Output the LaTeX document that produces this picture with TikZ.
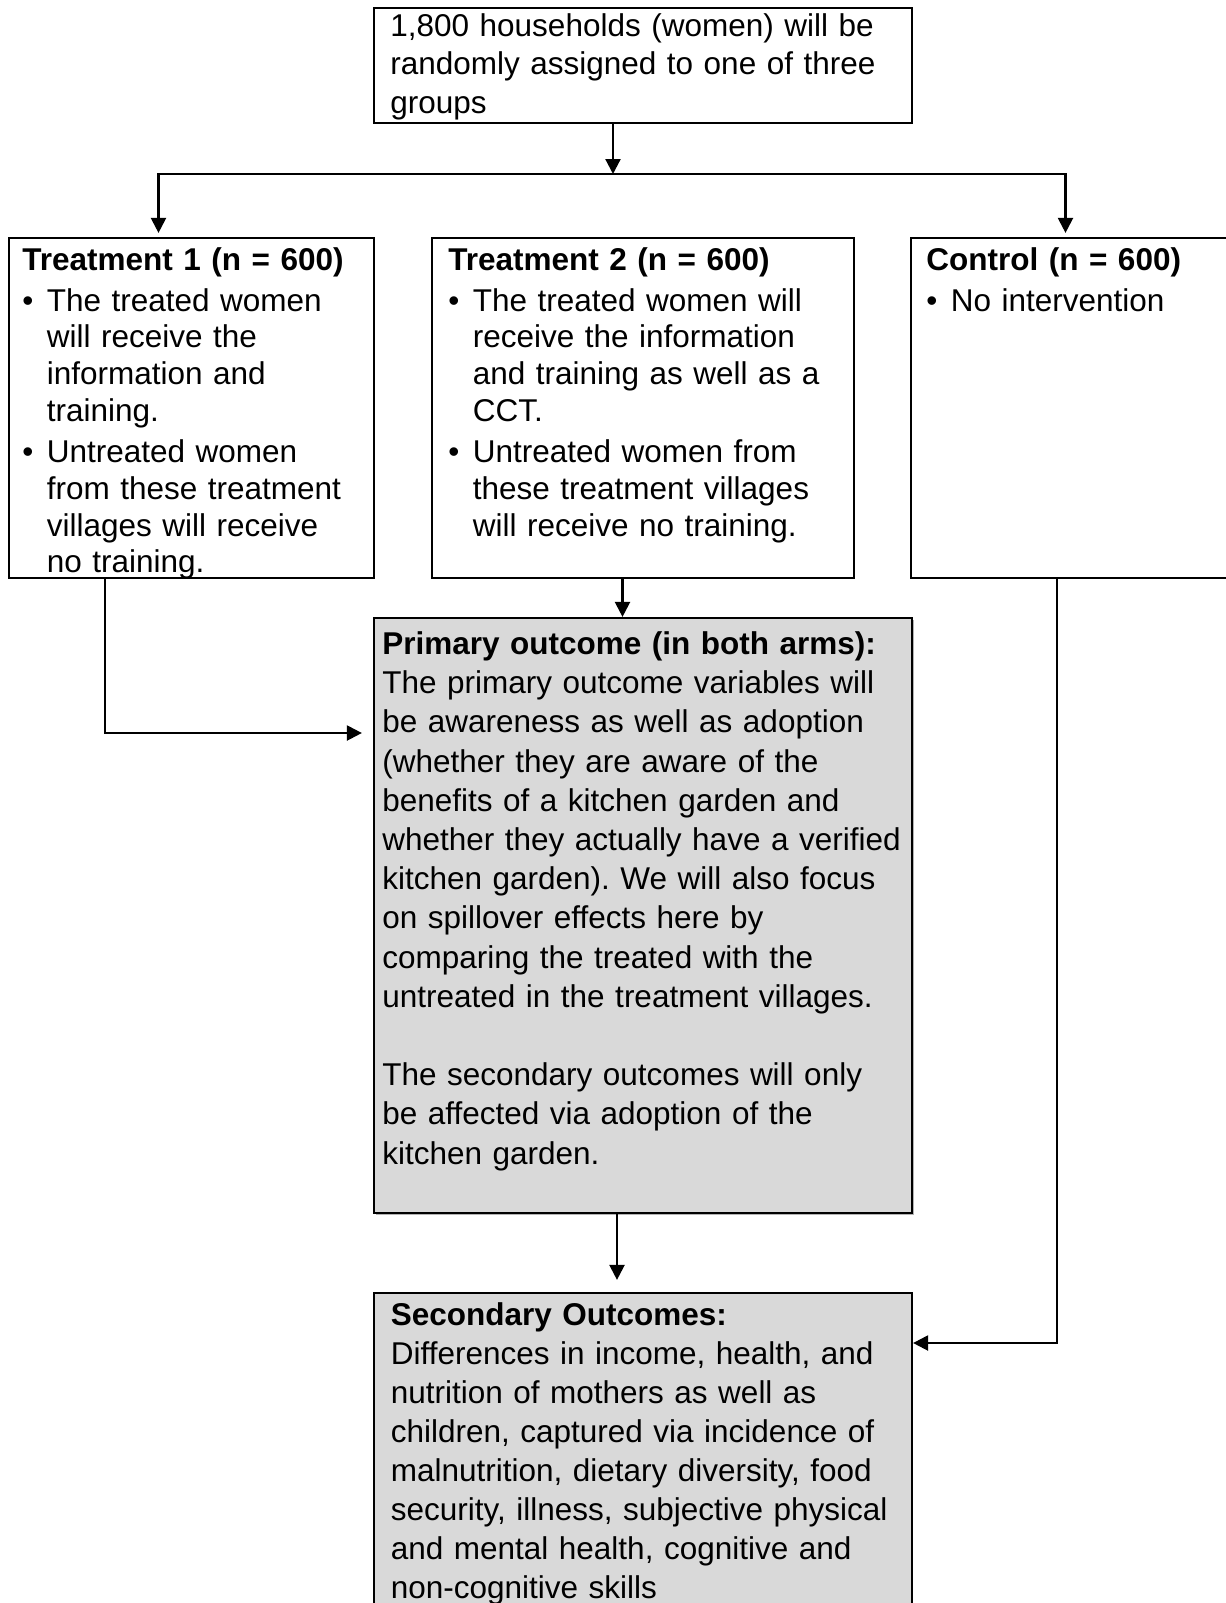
\documentclass[tikz,border=0pt]{standalone}
\usepackage{fontspec}
\setmainfont{Liberation Sans}
\usetikzlibrary{arrows.meta,shadows}
\definecolor{boxgray}{RGB}{217,217,217}
\newcommand{\bul}[1]{\par\vspace{2.1pt}\hangindent=12.25pt\hangafter=1\noindent\makebox[12.25pt][l]{\textbullet}#1\par}

\begin{document}
\frenchspacing
\begin{tikzpicture}[x=0.5pt,y=-0.5pt,
		>={Triangle[length=7.5pt,width=7.5pt]},
		box/.style={draw,line width=1.1pt,inner sep=0pt},
		outbox/.style={box,fill=boxgray},
		txt/.style={anchor=base west,inner sep=0pt,align=left,font=\fontsize{15.75pt}{18.4pt}\selectfont},
		link/.style={line width=1.1pt}]
		\useasboundingbox (0,0) rectangle (1226,1603);
		\clip (0,0) rectangle (1226,1603);
		\node[box,minimum width=269pt,minimum height=57.5pt] (groups) at (643,65.5) {};
		\node[txt,text width=270pt,font=\fontsize{15.75pt}{19.4pt}\selectfont] (groupstext) at (390,36) {1,800 households (women) will be\\randomly assigned to one of three\\groups};
		\node[box,minimum width=182.5pt,minimum height=170pt] (treat1) at (191.5,408) {};
		\node[txt,text width=175pt] (treat1text) at (22,270) {\textbf{Treatment 1 (n = 600)}
			\bul{The treated women\newline will receive the\newline information and\newline training.}
			\bul{Untreated women\newline from these treatment\newline villages will receive\newline no training.}};
		\node[box,minimum width=211pt,minimum height=170pt] (treat2) at (643,408) {};
		\node[txt,text width=205pt] (treat2text) at (448,270) {\textbf{Treatment 2 (n = 600)}
			\bul{The treated women will\newline receive the information\newline and training as well as a\newline CCT.}
			\bul{Untreated women from\newline these treatment villages\newline will receive no training.}};
		\node[box,minimum width=174.5pt,minimum height=170pt] (ctrl) at (1085.5,408) {};
		\node[txt,text width=150pt] (ctrltext) at (926,270) {\textbf{Control (n = 600)}
			\bul{No intervention}};
		\node[outbox,minimum width=269pt,minimum height=297.5pt,drop shadow={shadow xshift=0.8pt,shadow yshift=-1.2pt,fill=black!30,opacity=1}] (primary) at (643,915.5) {};
		\node[txt,text width=270pt,font=\fontsize{15.75pt}{19.6pt}\selectfont] (primarytext) at (382,654.5) {\textbf{Primary outcome (in both arms):}\\The primary outcome variables will\\be awareness as well as adoption\\(whether they are aware of the\\benefits of a kitchen garden and\\whether they actually have a verified\\kitchen garden). We will also focus\\on spillover effects here by\\comparing the treated with the\\untreated in the treatment villages.\\[19.6pt]The secondary outcomes will only\\be affected via adoption of the\\kitchen garden.};
		\node[outbox,minimum width=269pt,minimum height=178.5pt] (secondary) at (643,1471.5) {};
		\node[txt,text width=265pt,font=\fontsize{15.75pt}{19.5pt}\selectfont] (secondarytext) at (390.5,1325.5) {\textbf{Secondary Outcomes:}\\Differences in income, health, and\\nutrition of mothers as well as\\children, captured via incidence of\\malnutrition, dietary diversity, food\\security, illness, subjective physical\\and mental health, cognitive and\\non-cognitive skills};
		\coordinate (split) at (613,174);
		\coordinate (busL) at (158.5,174);
		\coordinate (busR) at (1065.5,174);
		\draw[link,->] (groups.south -| split) -- (split);
		\draw[link,<->,shorten <=2pt,shorten >=2pt] (treat1.north -| busL) -- (busL) -- (busR) -- (ctrl.north -| busR);
		\coordinate (t1out) at (105,733);
		\draw[link,->,shorten >=5.5pt] (treat1.south -| t1out) -- (t1out) -- (primary.west |- t1out);
		\coordinate (t2out) at (622.5,0);
		\draw[link,->] (treat2.south -| t2out) -- (primary.north -| t2out);
		\coordinate (primout) at (617,0);
		\draw[link,->,shorten >=6pt] (primary.south -| primout) -- (secondary.north -| primout);
		\coordinate (ctrlout) at (1057,1343);
		\draw[link,->] (ctrl.south -| ctrlout) -- (ctrlout) -- (secondary.east |- ctrlout);
\end{tikzpicture}
\end{document}
